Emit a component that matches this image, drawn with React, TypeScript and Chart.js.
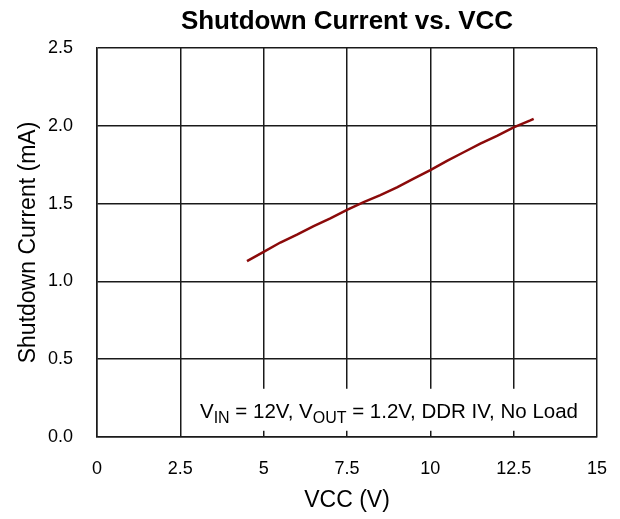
import React, { useEffect, useRef } from "react";
import { Chart, registerables } from "chart.js";

Chart.register(...registerables);

const vcc = [4.5, 5, 5.5, 6, 6.5, 7, 7.5, 8, 8.5, 9, 9.5, 10, 10.5, 11, 11.5, 12, 12.5, 13, 13.1];
const shutdownCurrent = [1.13, 1.19, 1.25, 1.3, 1.355, 1.405, 1.46, 1.51, 1.555, 1.605, 1.66, 1.715, 1.775, 1.83, 1.885, 1.935, 1.99, 2.035, 2.045];
const xTickValues = [0, 2.5, 5, 7.5, 10, 12.5, 15];
const xTickLabels = ["0", "2.5", "5", "7.5", "10", "12.5", "15"];
const yTickValues = [0, 0.5, 1, 1.5, 2, 2.5];
const yTickLabels = ["0.0", "0.5", "1.0", "1.5", "2.0", "2.5"];
const noteParts: { text: string; sub: boolean }[] = [
  { text: "V", sub: false },
  { text: "IN", sub: true },
  { text: " = 12V, V", sub: false },
  { text: "OUT", sub: true },
  { text: " = 1.2V, DDR IV, No Load", sub: false },
];

const FONT = "'Liberation Sans', Arial, sans-serif";
const GRID = "#1a1a1a";

const notePlugin = {
  id: "note",
  beforeDatasetsDraw(chart: any) {
    const { ctx, scales } = chart;
    const xs = scales.x;
    const ys = scales.y;
    const left = xs.getPixelForValue(2.56);
    const right = xs.getPixelForValue(14.92);
    const top = ys.getPixelForValue(0.31);
    const bottom = ys.getPixelForValue(0.04);
    ctx.save();
    ctx.fillStyle = "#ffffff";
    ctx.fillRect(left, top, right - left, bottom - top);
    const mainFont = `20.5px ${FONT}`;
    const subFont = `16px ${FONT}`;
    let total = 0;
    for (const p of noteParts) {
      ctx.font = p.sub ? subFont : mainFont;
      total += ctx.measureText(p.text).width;
    }
    let x = xs.getPixelForValue(14.43) - total;
    const baseY = ys.getPixelForValue(0.122);
    ctx.fillStyle = "#000000";
    ctx.textAlign = "left";
    ctx.textBaseline = "alphabetic";
    for (const p of noteParts) {
      ctx.font = p.sub ? subFont : mainFont;
      ctx.fillText(p.text, x, p.sub ? baseY + 5 : baseY);
      x += ctx.measureText(p.text).width;
    }
    ctx.restore();
  },
};

export default function App() {
  const ref = useRef<HTMLCanvasElement | null>(null);
  useEffect(() => {
    if (!ref.current) return;
    const chart = new Chart(ref.current, {
      type: "line",
      data: {
        datasets: [
          {
            data: vcc.map((v, i) => ({ x: v, y: shutdownCurrent[i] })),
            borderColor: "#8b0a0a",
            borderWidth: 2.5,
            pointRadius: 0,
            tension: 0,
            fill: false,
          },
        ],
      },
      options: {
        responsive: false,
        animation: false,
        layout: { padding: { left: 0, right: 23, top: 0, bottom: 0 } },
        plugins: {
          legend: { display: false },
          tooltip: { enabled: false },
          title: {
            display: true,
            text: "Shutdown Current vs. VCC",
            color: "#000",
            fullSize: false,
            font: { family: FONT, size: 26, weight: "bold" },
            padding: { top: 6, bottom: 10.8 },
          },
        },
        scales: {
          x: {
            type: "linear",
            min: 0,
            max: 15,
            afterBuildTicks: (s: any) => {
              s.ticks = xTickValues.map((v) => ({ value: v }));
            },
            afterFit: (s: any) => {
              s.height = 82;
              s.paddingLeft = 0;
              s.paddingRight = 0;
            },
            ticks: {
              color: "#000",
              font: { family: FONT, size: 18 },
              padding: 21,
              maxRotation: 0,
              autoSkip: false,
              callback: (v: any) => {
                const i = xTickValues.indexOf(Number(v));
                return i >= 0 ? xTickLabels[i] : "";
              },
            },
            grid: { color: GRID, lineWidth: 1.5, drawTicks: false },
            border: { color: GRID, width: 1.5 },
            title: {
              display: true,
              text: "VCC (V)",
              color: "#000",
              font: { family: FONT, size: 23 },
              padding: { top: 0, bottom: 5 },
            },
          },
          y: {
            type: "linear",
            min: 0,
            max: 2.5,
            afterBuildTicks: (s: any) => {
              s.ticks = yTickValues.map((v) => ({ value: v }));
            },
            afterFit: (s: any) => {
              s.width = 97;
            },
            ticks: {
              color: "#000",
              font: { family: FONT, size: 18 },
              padding: 24,
              autoSkip: false,
              callback: (v: any) => {
                const i = yTickValues.indexOf(Number(v));
                return i >= 0 ? yTickLabels[i] : "";
              },
            },
            grid: { color: GRID, lineWidth: 1.5, drawTicks: false },
            border: { color: GRID, width: 1.5 },
            title: {
              display: true,
              text: "Shutdown Current (mA)",
              color: "#000",
              font: { family: FONT, size: 23 },
              padding: { top: 15, bottom: 0 },
            },
          },
        },
      },
      plugins: [notePlugin],
    } as any);
    return () => chart.destroy();
  }, []);
  return (
    <>
      <style>{`body{margin:0;background:#fff}`}</style>
      <canvas ref={ref} width={620} height={519} style={{ display: "block" }} />
    </>
  );
}
